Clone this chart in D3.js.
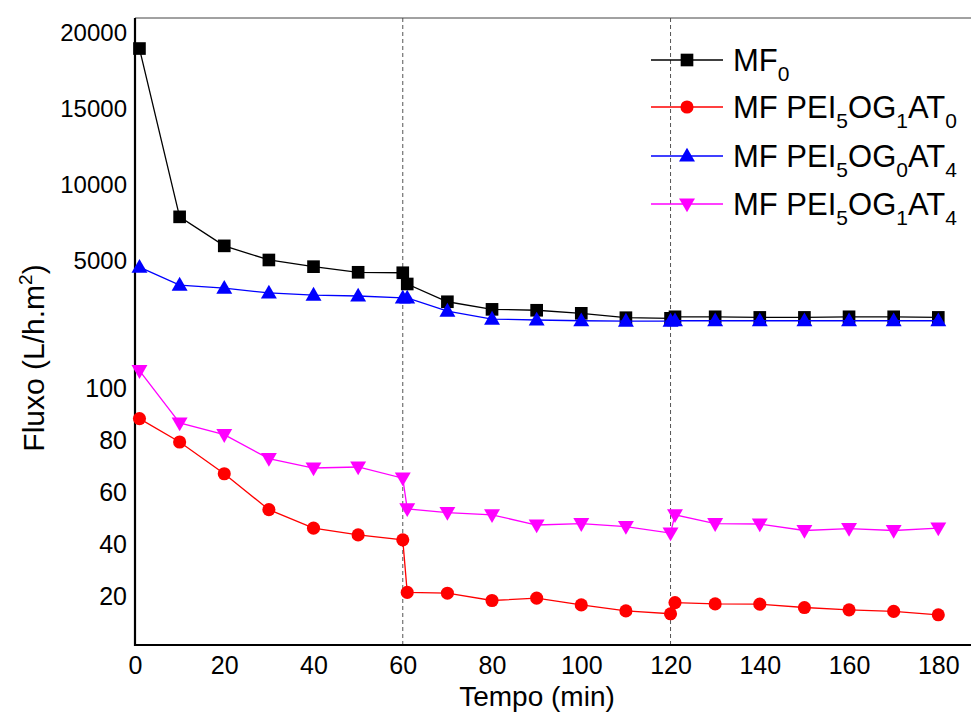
<!DOCTYPE html>
<html>
<head>
<meta charset="utf-8">
<script src="https://cdn.jsdelivr.net/npm/d3@7"></script>
<style>
  body { margin: 0; background: #fff; }
  text { font-family: Arial, "Liberation Sans", sans-serif; fill: #000; }
</style>
</head>
<body>
<svg id="chart" width="971" height="718"></svg>
<script>
// Time points (min) - the 61 and 121 points are the restart after each stage
const tempo = [1, 10, 20, 30, 40, 50, 60, 61, 70, 80, 90, 100, 110, 120, 121, 130, 140, 150, 160, 170, 180];

// Upper axis series (L/h.m2)
const mf0 = [18990, 7910, 6000, 5070, 4630, 4260, 4230, 3490, 2320, 1820, 1760, 1560, 1270, 1230, 1330, 1330, 1290, 1290, 1330, 1330, 1290];
const mfOG0AT4 = [4600, 3420, 3220, 2900, 2760, 2700, 2570, 2570, 1710, 1180, 1120, 1070, 1050, 1050, 1070, 1070, 1070, 1070, 1070, 1070, 1070];

// Lower axis series
const mfOG1AT0 = [88.5, 79.5, 67.3, 53.5, 46.4, 43.8, 41.9, 21.7, 21.4, 18.6, 19.5, 16.9, 14.6, 13.5, 17.8, 17.3, 17.2, 15.9, 15.0, 14.4, 13.1];
const mfOG1AT4 = [106.9, 86.8, 82.3, 73.1, 69.5, 69.9, 65.6, 53.8, 52.4, 51.5, 47.6, 48.1, 47.0, 44.5, 51.5, 48.1, 48.0, 45.5, 46.2, 45.5, 46.4];

const xTicks = [0, 20, 40, 60, 80, 100, 120, 140, 160, 180];
const yTicksUpper = [5000, 10000, 15000, 20000];
const yTicksLower = [20, 40, 60, 80, 100];
const stageMarks = [60, 120];

const svg = d3.select("#chart");
const plotL = 135, plotR = 974, plotT = 18, plotB = 645;

const x = d3.scaleLinear().domain([0, 188]).range([plotL, plotR]);
// broken y axis: one scale for the high-flux membranes, one for the low ones
const yUp = d3.scaleLinear().domain([0, 21000]).range([337, plotT]);
const yLow = d3.scaleLinear().domain([1.5, 116]).range([plotB, 347]);

// Stage separators
svg.append("g").selectAll("line").data(stageMarks).enter().append("line")
    .attr("x1", d => x(d)).attr("x2", d => x(d))
    .attr("y1", plotT).attr("y2", plotB)
    .attr("stroke", "#555").attr("stroke-width", 1)
    .attr("stroke-dasharray", "4,3");

// Frame: thin top border, heavy left and bottom axes
svg.append("line").attr("x1", plotL).attr("x2", 971).attr("y1", plotT).attr("y2", plotT)
    .attr("stroke", "#444").attr("stroke-width", 1);
svg.append("line").attr("x1", plotL).attr("x2", plotL).attr("y1", plotT).attr("y2", plotB + 1)
    .attr("stroke", "#000").attr("stroke-width", 2.2);
svg.append("line").attr("x1", plotL - 1).attr("x2", 971).attr("y1", plotB).attr("y2", plotB)
    .attr("stroke", "#000").attr("stroke-width", 2.2);

// Axes built with d3, then domain/ticks hidden (Origin style without ticks)
const fmt = d3.format("d");
const xAxis = svg.append("g").attr("transform", `translate(0,${plotB})`)
    .call(d3.axisBottom(x).tickValues(xTicks).tickFormat(fmt).tickSize(0).tickPadding(11));
const yAxisUp = svg.append("g").attr("transform", `translate(${plotL},0)`)
    .call(d3.axisLeft(yUp).tickValues(yTicksUpper).tickFormat(fmt).tickSize(0).tickPadding(8));
const yAxisLow = svg.append("g").attr("transform", `translate(${plotL},0)`)
    .call(d3.axisLeft(yLow).tickValues(yTicksLower).tickFormat(fmt).tickSize(0).tickPadding(8));
[xAxis, yAxisUp, yAxisLow].forEach(g => {
    g.select(".domain").remove();
    g.selectAll("text").attr("font-size", 25).attr("font-family", "Arial, 'Liberation Sans', sans-serif").attr("fill", "#000");
});
yAxisUp.selectAll("text").attr("font-size", 24);
yAxisLow.selectAll("text").attr("font-size", 25);

// Axis titles
svg.append("text").attr("x", 537).attr("y", 706).attr("text-anchor", "middle")
    .attr("font-size", 28).text("Tempo (min)");
const yTitle = svg.append("text").attr("transform", "translate(44,358) rotate(-90)")
    .attr("text-anchor", "middle").attr("font-size", 30);
yTitle.append("tspan").text("Fluxo (L/h.m");
yTitle.append("tspan").attr("font-size", 19).attr("dy", -12).text("2");
yTitle.append("tspan").attr("dy", 12).text(")");

// Marker shapes
const symbols = {
    square: d3.symbol().type(d3.symbolSquare).size(160),
    circle: d3.symbol().type(d3.symbolCircle).size(135),
    up: d3.symbol().type(d3.symbolTriangle).size(110),
    down: d3.symbol().type(d3.symbolTriangle).size(110)
};

const series = [
    { name: ["MF", "0"], values: mf0, y: yUp, color: "#000000", shape: "square" },
    { name: ["MF PEI", "5", "OG", "1", "AT", "0"], values: mfOG1AT0, y: yLow, color: "#ff0000", shape: "circle" },
    { name: ["MF PEI", "5", "OG", "0", "AT", "4"], values: mfOG0AT4, y: yUp, color: "#0000ff", shape: "up" },
    { name: ["MF PEI", "5", "OG", "1", "AT", "4"], values: mfOG1AT4, y: yLow, color: "#ff00ff", shape: "down" }
];

function drawMarker(g, s, cx, cy) {
    const rot = s.shape === "down" ? 180 : 0;
    const off = s.shape === "up" ? 1 : (s.shape === "down" ? -1 : 0);
    g.append("path").attr("d", symbols[s.shape]())
        .attr("transform", `translate(${cx},${cy + off}) rotate(${rot})`)
        .attr("fill", s.color);
}

series.forEach(s => {
    const line = d3.line().x((d, i) => x(tempo[i])).y(d => s.y(d));
    const g = svg.append("g");
    g.append("path").datum(s.values).attr("d", line)
        .attr("fill", "none").attr("stroke", s.color).attr("stroke-width", 1.3);
    s.values.forEach((v, i) => drawMarker(g, s, x(tempo[i]), s.y(v)));
});

// Legend
const legendRows = [60, 107, 156, 204];
series.forEach((s, i) => {
    const g = svg.append("g").attr("transform", `translate(0,${legendRows[i]})`);
    g.append("line").attr("x1", 651).attr("x2", 723).attr("y1", 0).attr("y2", 0)
        .attr("stroke", s.color).attr("stroke-width", 1.3);
    drawMarker(g, s, 687, 0);
    const t = g.append("text").attr("x", 733).attr("y", 11).attr("font-size", 31);
    s.name.forEach((part, k) => {
        if (k % 2 === 0) {
            t.append("tspan").attr("font-size", 31).attr("dy", k === 0 ? 0 : -10).text(part);
        } else {
            t.append("tspan").attr("font-size", 21).attr("dy", 10).text(part);
        }
    });
});
</script>
</body>
</html>
